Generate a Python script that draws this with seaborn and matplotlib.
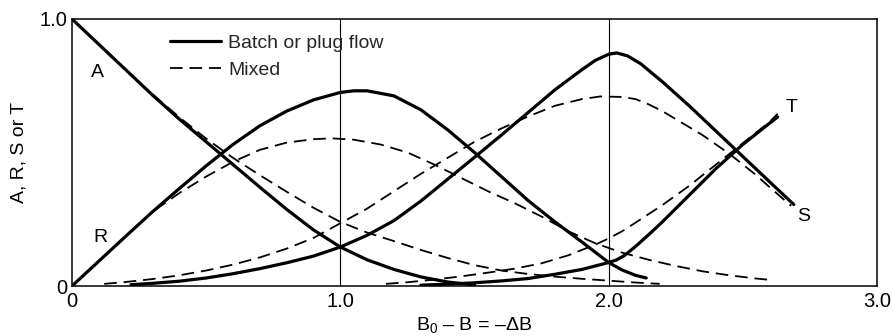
import matplotlib
matplotlib.use("Agg")
import matplotlib.pyplot as plt
from matplotlib.lines import Line2D
import seaborn as sns
import pandas as pd

# Batch / plug flow reactor curves (solid)
a_batch_x = [0, 0.1, 0.2, 0.3, 0.4, 0.5, 0.6, 0.7, 0.8, 0.9, 1.0, 1.1, 1.2, 1.3, 1.4, 1.5]
a_batch_y = [1.0, 0.905, 0.81, 0.715, 0.625, 0.54, 0.455, 0.37, 0.287, 0.21, 0.146, 0.098, 0.062, 0.034, 0.015, 0.004]

r_batch_x = [0, 0.1, 0.2, 0.3, 0.4, 0.5, 0.6, 0.7, 0.8, 0.9, 1.0, 1.05, 1.1, 1.2, 1.3, 1.4, 1.5,
             1.6, 1.7, 1.8, 1.9, 2.0, 2.05, 2.1, 2.14]
r_batch_y = [0, 0.093, 0.186, 0.278, 0.365, 0.45, 0.53, 0.60, 0.655, 0.697, 0.725, 0.731, 0.731, 0.712,
             0.66, 0.585, 0.50, 0.41, 0.32, 0.24, 0.165, 0.088, 0.06, 0.04, 0.03]

s_batch_x = [0.22, 0.3, 0.4, 0.5, 0.6, 0.7, 0.8, 0.9, 1.0, 1.1, 1.2, 1.3, 1.4, 1.5, 1.6, 1.7, 1.8,
             1.9, 1.95, 2.0, 2.03, 2.07, 2.12, 2.2, 2.3, 2.4, 2.5, 2.6, 2.69]
s_batch_y = [0.005, 0.01, 0.018, 0.03, 0.046, 0.065, 0.087, 0.112, 0.146, 0.19, 0.245, 0.318, 0.40,
             0.482, 0.565, 0.65, 0.735, 0.81, 0.845, 0.868, 0.873, 0.862, 0.832, 0.765, 0.675, 0.58,
             0.485, 0.39, 0.305]

t_batch_x = [1.3, 1.4, 1.5, 1.6, 1.7, 1.8, 1.9, 1.95, 2.0, 2.03, 2.06, 2.1, 2.15, 2.2, 2.3, 2.4, 2.5, 2.6, 2.63]
t_batch_y = [0.003, 0.007, 0.012, 0.019, 0.028, 0.044, 0.062, 0.075, 0.088, 0.098, 0.115, 0.148, 0.193,
             0.24, 0.34, 0.44, 0.53, 0.61, 0.633]

# Mixed flow reactor curves (dashed)
a_mixed_x = [0.3, 0.4, 0.5, 0.6, 0.7, 0.8, 0.9, 1.0, 1.1, 1.2, 1.3, 1.4, 1.5, 1.6, 1.7, 1.8, 1.9, 2.0, 2.1, 2.19]
a_mixed_y = [0.718, 0.632, 0.552, 0.48, 0.415, 0.353, 0.293, 0.24, 0.20, 0.168, 0.135, 0.105, 0.078,
             0.058, 0.045, 0.035, 0.027, 0.02, 0.013, 0.008]

r_mixed_x = [0.31, 0.4, 0.5, 0.6, 0.7, 0.8, 0.9, 0.97, 1.05, 1.15, 1.25, 1.35, 1.45, 1.55, 1.65, 1.75,
             1.85, 1.95, 2.05, 2.15, 2.25, 2.35, 2.45, 2.55, 2.61]
r_mixed_y = [0.285, 0.348, 0.41, 0.465, 0.51, 0.537, 0.55, 0.553, 0.548, 0.53, 0.50, 0.455, 0.405, 0.355,
             0.31, 0.26, 0.205, 0.16, 0.125, 0.098, 0.075, 0.055, 0.04, 0.028, 0.022]

s_mixed_x = [0.12, 0.2, 0.3, 0.4, 0.5, 0.6, 0.7, 0.8, 0.9, 1.0, 1.1, 1.2, 1.3, 1.4, 1.5, 1.6, 1.7, 1.8,
             1.9, 1.97, 2.05, 2.1, 2.15, 2.2, 2.25, 2.3, 2.35, 2.4, 2.45, 2.5, 2.55, 2.6, 2.68]
s_mixed_y = [0.008, 0.015, 0.026, 0.04, 0.058, 0.08, 0.107, 0.14, 0.18, 0.235, 0.29, 0.355, 0.42, 0.48,
             0.54, 0.59, 0.635, 0.675, 0.70, 0.71, 0.708, 0.70, 0.68, 0.655, 0.625, 0.595, 0.565, 0.53,
             0.495, 0.455, 0.415, 0.37, 0.30]

t_mixed_x = [1.17, 1.25, 1.35, 1.45, 1.55, 1.65, 1.75, 1.85, 1.95, 2.0, 2.05, 2.1, 2.15, 2.2, 2.3, 2.4,
             2.5, 2.6, 2.63]
t_mixed_y = [0.008, 0.014, 0.024, 0.036, 0.05, 0.065, 0.085, 0.115, 0.155, 0.178, 0.205, 0.237, 0.27,
             0.303, 0.375, 0.455, 0.535, 0.615, 0.645]

x_ticks = [0, 1.0, 2.0, 3.0]
x_tick_labels = ["0", "1.0", "2.0", "3.0"]
y_ticks = [0, 1.0]
y_tick_labels = ["0", "1.0"]

curves = {
    ("A", "Batch or plug flow"): (a_batch_x, a_batch_y),
    ("R", "Batch or plug flow"): (r_batch_x, r_batch_y),
    ("S", "Batch or plug flow"): (s_batch_x, s_batch_y),
    ("T", "Batch or plug flow"): (t_batch_x, t_batch_y),
    ("A", "Mixed"): (a_mixed_x, a_mixed_y),
    ("R", "Mixed"): (r_mixed_x, r_mixed_y),
    ("S", "Mixed"): (s_mixed_x, s_mixed_y),
    ("T", "Mixed"): (t_mixed_x, t_mixed_y),
}
frames = []
for (species, reactor), (xs, ys) in curves.items():
    frames.append(pd.DataFrame({"dB": xs, "conc": ys, "species": species, "reactor": reactor}))
df = pd.concat(frames, ignore_index=True)

sns.set_theme(style="white")
plt.rcParams["font.family"] = ["Liberation Sans", "DejaVu Sans"]
plt.rcParams["mathtext.fontset"] = "custom"
plt.rcParams["mathtext.rm"] = "Liberation Sans"
plt.rcParams["mathtext.it"] = "Liberation Sans"

FS = 14

fig = plt.figure(figsize=(8.93, 3.36), dpi=100)
ax = fig.add_axes([72 / 893, 1 - 286 / 336, 805 / 893, 267 / 336])

styles = {
    "Batch or plug flow": dict(linewidth=2.3, linestyle="-"),
    "Mixed": dict(linewidth=1.3, linestyle=(0, (7, 3.8))),
}
for (species, reactor), sub in df.groupby(["species", "reactor"], sort=False):
    sns.lineplot(data=sub, x="dB", y="conc", ax=ax, color="black", sort=False,
                 estimator=None, legend=False, **styles[reactor])

# reference lines at 1.0 and 2.0
for xv in [1.0, 2.0]:
    ax.axvline(xv, color="black", linewidth=0.8, zorder=0)

ax.set_xlim(0, 3.0)
ax.set_ylim(0, 1.0)
ax.set_xticks(x_ticks)
ax.set_xticklabels(x_tick_labels)
ax.set_yticks(y_ticks)
ax.set_yticklabels(y_tick_labels)
ax.tick_params(axis="both", length=0, labelsize=FS + 0.5, colors="black")
ax.tick_params(axis="x", pad=4)
ax.tick_params(axis="y", pad=3)
for sp in ax.spines.values():
    sp.set_visible(True)
    sp.set_color("black")
    sp.set_linewidth(1.1)

ax.set_xlabel(r"B$_\mathregular{0}$ – B = –ΔB", fontsize=FS, color="black", labelpad=3)
ax.set_ylabel("A, R, S or T", fontsize=FS, color="black", labelpad=9)

# curve labels
for txt, xv, yv in [("A", 0.093, 0.80), ("R", 0.105, 0.18), ("T", 2.68, 0.667), ("S", 2.725, 0.262)]:
    ax.text(xv, yv, txt, fontsize=FS, color="black", ha="center", va="center")

handles = [
    Line2D([], [], color="black", **styles["Batch or plug flow"]),
    Line2D([], [], color="black", **styles["Mixed"]),
]
ax.legend(handles, ["Batch or plug flow", "Mixed"], loc="upper left",
          bbox_to_anchor=((170 - 72) / 805, 1 - (34 - 19) / 267), frameon=False,
          fontsize=FS, handlelength=2.6, handletextpad=0.4, labelspacing=0.5,
          borderpad=0, borderaxespad=0)

fig.savefig("out.png", dpi=100)
